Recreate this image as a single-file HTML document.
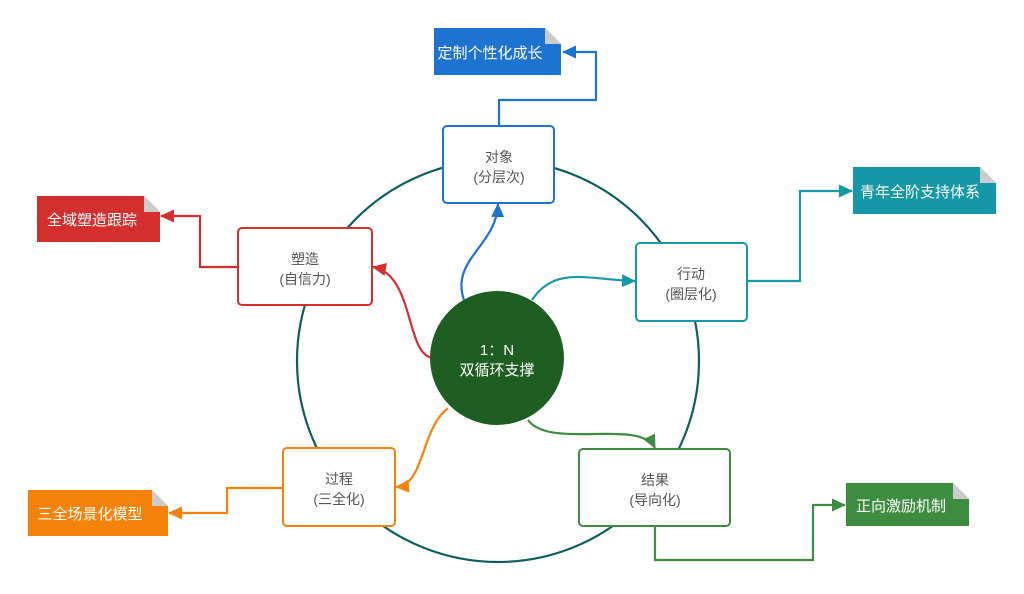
<!DOCTYPE html>
<html><head><meta charset="utf-8"><style>
body{margin:0;background:#fff;}
svg text{font-family:"Liberation Sans","Noto Sans CJK SC",sans-serif;}
</style></head><body>
<svg width="1024" height="589" viewBox="0 0 1024 589" xmlns="http://www.w3.org/2000/svg">
<defs>
<marker id="ab" markerWidth="14" markerHeight="13" refX="13" refY="6.5" orient="auto" markerUnits="userSpaceOnUse" viewBox="0 0 14 13"><path d="M0,0 L14,6.5 L0,13z" fill="#1e73d0"/></marker>
<marker id="ar" markerWidth="14" markerHeight="13" refX="13" refY="6.5" orient="auto" markerUnits="userSpaceOnUse" viewBox="0 0 14 13"><path d="M0,0 L14,6.5 L0,13z" fill="#d32f2f"/></marker>
<marker id="at" markerWidth="14" markerHeight="13" refX="13" refY="6.5" orient="auto" markerUnits="userSpaceOnUse" viewBox="0 0 14 13"><path d="M0,0 L14,6.5 L0,13z" fill="#1798a6"/></marker>
<marker id="ao" markerWidth="14" markerHeight="13" refX="13" refY="6.5" orient="auto" markerUnits="userSpaceOnUse" viewBox="0 0 14 13"><path d="M0,0 L14,6.5 L0,13z" fill="#f5820a"/></marker>
<marker id="ag" markerWidth="14" markerHeight="13" refX="13" refY="6.5" orient="auto" markerUnits="userSpaceOnUse" viewBox="0 0 14 13"><path d="M0,0 L14,6.5 L0,13z" fill="#3d8c40"/></marker>
</defs>
<circle cx="498" cy="361" r="201" fill="none" stroke="#0d5f5f" stroke-width="2.2"/>

<polyline points="499,126 499,100 596,100 596,52 563,52" fill="none" stroke="#1e73d0" stroke-width="2.2" marker-end="url(#ab)"/>
<polyline points="238,267 200,267 200,216 161,216" fill="none" stroke="#d32f2f" stroke-width="2.2" marker-end="url(#ar)"/>
<polyline points="747,281 800,281 800,191 852,191" fill="none" stroke="#1798a6" stroke-width="2.2" marker-end="url(#at)"/>
<polyline points="283,488 227,488 227,513 169,513" fill="none" stroke="#f5820a" stroke-width="2.2" marker-end="url(#ao)"/>
<polyline points="655,527 655,560 813,560 813,505 845,505" fill="none" stroke="#3d8c40" stroke-width="2.2" marker-end="url(#ag)"/>

<path d="M464,300 C450,260 497,245 498,204" fill="none" stroke="#1e73d0" stroke-width="2.2" marker-end="url(#ab)"/>
<path d="M532,300 C555,265 590,280 635,281" fill="none" stroke="#1798a6" stroke-width="2.2" marker-end="url(#at)"/>
<path d="M433,358 C405,355 415,275 373,267" fill="none" stroke="#d32f2f" stroke-width="2.2" marker-end="url(#ar)"/>
<path d="M448,408 C420,430 425,485 396,487" fill="none" stroke="#f5820a" stroke-width="2.2" marker-end="url(#ao)"/>
<path d="M528,420 C550,450 640,418 655,448" fill="none" stroke="#3d8c40" stroke-width="2.2" marker-end="url(#ag)"/>

<circle cx="497" cy="358" r="67" fill="#1f5e22"/>
<text x="497" y="355" text-anchor="middle" font-size="15" fill="#fff">1：N</text>
<text x="497" y="375" text-anchor="middle" font-size="15" fill="#fff">双循环支撑</text>

<g font-size="14" fill="#555" text-anchor="middle">
<rect x="443" y="126" width="111" height="77" rx="4" fill="#fff" stroke="#1e73d0" stroke-width="2"/>
<text x="499" y="162">对象</text><text x="499" y="182">(分层次)</text>
<rect x="238" y="228" width="134" height="77" rx="4" fill="#fff" stroke="#d32f2f" stroke-width="2"/>
<text x="305" y="264">塑造</text><text x="305" y="284">(自信力)</text>
<rect x="636" y="243" width="111" height="78" rx="4" fill="#fff" stroke="#1798a6" stroke-width="2"/>
<text x="691" y="279">行动</text><text x="691" y="299">(圈层化)</text>
<rect x="283" y="448" width="112" height="78" rx="4" fill="#fff" stroke="#f5820a" stroke-width="2"/>
<text x="339" y="484">过程</text><text x="339" y="504">(三全化)</text>
<rect x="579" y="449" width="151" height="77" rx="4" fill="#fff" stroke="#3d8c40" stroke-width="2"/>
<text x="655" y="485">结果</text><text x="655" y="505">(导向化)</text>
</g>

<g font-size="15" fill="#fff" text-anchor="middle">
<path d="M434,28 H545 L561,44 V75 H434z" fill="#1e73d0"/><path d="M545,28 L561,44 H545z" fill="#ccc"/>
<text x="490" y="58">定制个性化成长</text>
<path d="M37,196 H144 L160,212 V242 H37z" fill="#d32f2f"/><path d="M144,196 L160,212 H144z" fill="#ccc"/>
<text x="92" y="225">全域塑造跟踪</text>
<path d="M853,167 H980 L996,183 V214 H853z" fill="#1598a6"/><path d="M980,167 L996,183 H980z" fill="#ccc"/>
<text x="920" y="197">青年全阶支持体系</text>
<path d="M28,490 H152 L168,506 V536 H28z" fill="#f5820a"/><path d="M152,490 L168,506 H152z" fill="#ccc"/>
<text x="90" y="519">三全场景化模型</text>
<path d="M846,483 H953 L969,499 V526 H846z" fill="#3d8c40"/><path d="M953,483 L969,499 H953z" fill="#ccc"/>
<text x="901" y="511">正向激励机制</text>
</g>
</svg>
</body></html>
